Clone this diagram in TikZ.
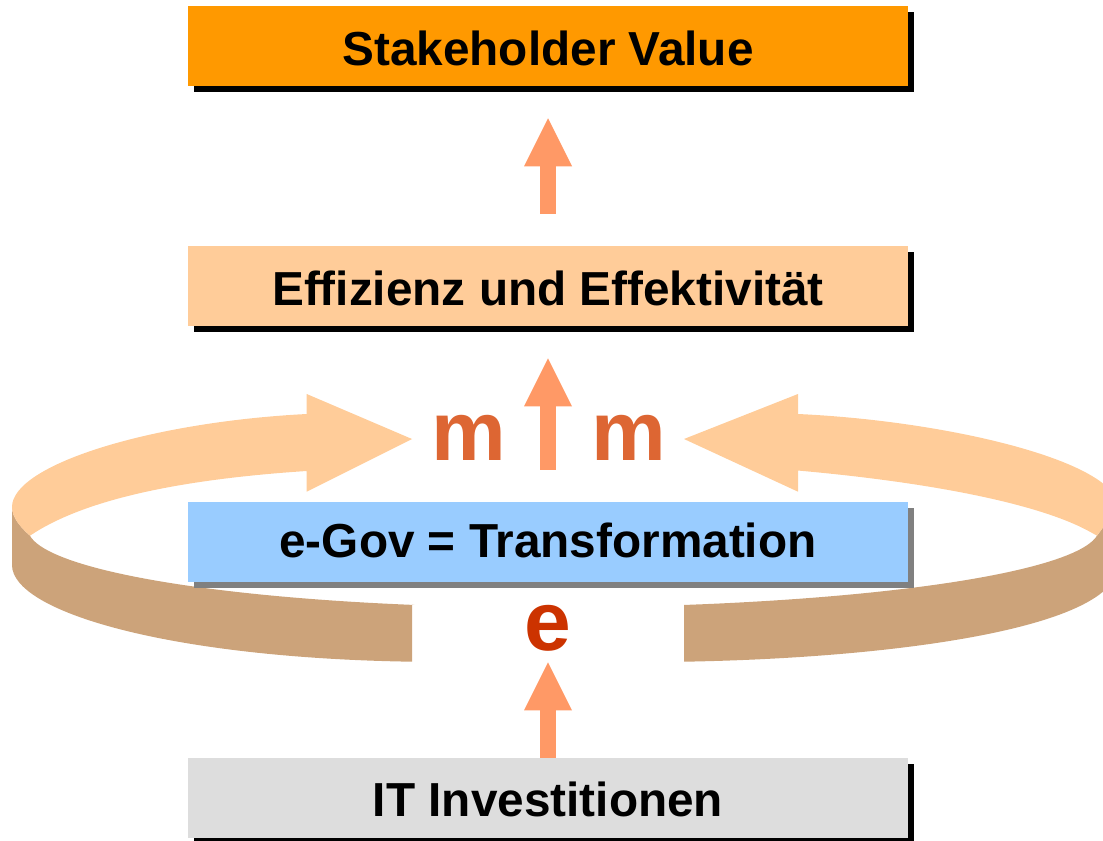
\documentclass[tikz,border=0pt]{standalone}
\usepackage{fontspec}
\setmainfont{Liberation Sans}
\usetikzlibrary{arrows.meta,shadows}
\definecolor{cOrange}{HTML}{FF9900}
\definecolor{cPeach}{HTML}{FFCC99}
\definecolor{cBrown}{HTML}{CCA37A}
\definecolor{cBlue}{HTML}{99CCFF}
\definecolor{cGrey}{HTML}{DDDDDD}
\definecolor{cArrow}{HTML}{FF9966}
\definecolor{cM}{HTML}{DD6633}
\definecolor{cE}{HTML}{CC3300}
\tikzset{
  bx/.style={minimum width=540pt,minimum height=60pt,inner sep=0pt,text depth=0pt,text height=30pt,
    font=\fontsize{35.8}{38}\selectfont\bfseries,text=black,
    copy shadow={fill=#1,draw=none,shadow xshift=4.2pt,shadow yshift=-4.2pt}},
  blockarrow/.style={draw=cArrow,line width=12pt,-{Triangle[length=36pt 0 0,width=36pt 0 0,line width=0pt,fill=cArrow]}},
  bigletter/.style={font=\fontsize{63}{65}\selectfont\bfseries,inner sep=0pt,anchor=base},
}
\begin{document}
\begin{tikzpicture}[x=0.75pt,y=-0.75pt]
\useasboundingbox (0,0) rectangle (1103,841);
\clip (0,0) rectangle (1103,841);
% left ring
\fill[cBrown] (12,507) -- (12,565)
  .. controls (12,612) and (170,658) .. (412,661.7)
  -- (412,604.7)
  -- plot[domain=104.9:175,samples=40] ({548+520*cos(\x)},{529+78.6*sin(\x)})
  -- (30,535.7) .. controls (20,527) and (12,517) .. (12,507) -- cycle;
\fill[cPeach] (12,507)
  .. controls (12,465) and (150,422) .. (306.7,414)
  -- (306.7,394) -- (412,439) -- (306.7,491.7) -- (306.7,471)
  .. controls (170,480) and (80,502) .. (30,535.7)
  .. controls (20,527) and (12,517) .. (12,507) -- cycle;
% right ring
\fill[cBrown] (1118,507) -- (1118,565)
  .. controls (1118,627) and (900,658) .. (684,661.7)
  -- (684,605)
  -- plot[domain=75.7:5,samples=40] ({548+551*cos(\x)},{529+78.4*sin(\x)})
  -- (1097,535.7) -- cycle;
\fill[cPeach] (1118,507)
  .. controls (1118,462) and (950,421) .. (798,414)
  -- (798,394) -- (684,439) -- (798,491.7) -- (798,471)
  -- plot[domain=64:18,samples=40] ({548+570*cos(\x)},{564-104*sin(\x)})
  -- (1097,535.7) -- cycle;
% boxes
\node[bx=black,fill=cOrange] (sv) at (548,46) {Stakeholder Value};
\node[bx=black,fill=cPeach,text height=29pt] (eff) at (548,286) {Effizienz und Effektivität};
\node[bx=gray,fill=cBlue,text height=22.5pt] (gov) at (548,542) {e-Gov = Transformation};
\node[bx=black,fill=cGrey,text height=27pt] (it) at (548,798) {IT Investitionen};
% arrows
\draw[blockarrow] ([yshift=24pt]eff.north) -- ([yshift=-24pt]sv.south);
\draw[blockarrow] ([yshift=24pt]gov.north) -- ([yshift=-24pt]eff.south);
\draw[blockarrow] (it.north) -- ([yshift=-60pt]gov.south);
% letters
\node[bigletter,text=cM] (m1) at (468.5,460) {m};
\node[bigletter,text=cM] (m2) at (628.5,460) {m};
\node[bigletter,text=cE] (e) at (548,650) {e};
\end{tikzpicture}
\end{document}
